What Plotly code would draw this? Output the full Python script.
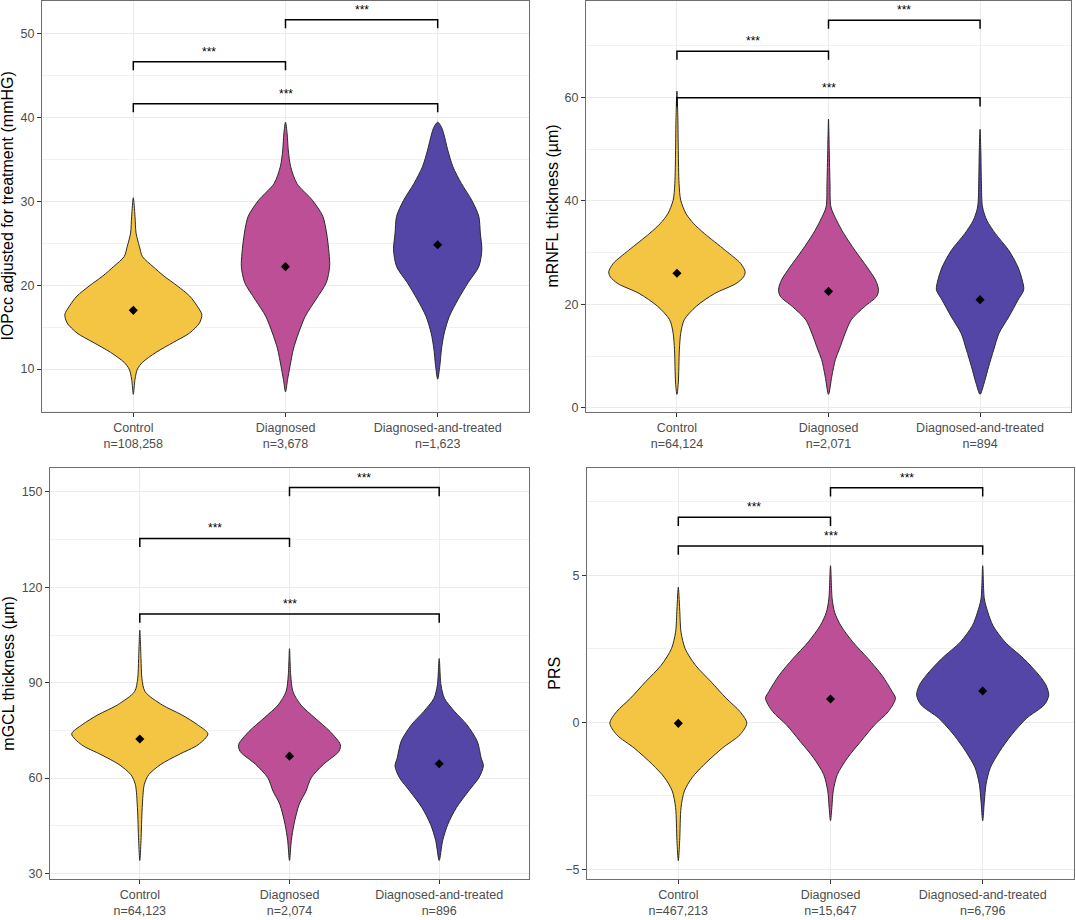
import plotly.graph_objects as go

# ---------------- data ----------------
CATEGORIES = ["Control", "Diagnosed", "Diagnosed-and-treated"]
COLORS = ["#F4C542", "#BC4F96", "#5446A6"]
PAIRS = [(0, 1), (0, 2), (1, 2)]

# Panel 1: IOPcc
IOP_N = ["108,258", "3,678", "1,623"]
IOP_CONTROL_Y = [30.4, 28.2, 26.2, 24.6, 23.4, 22.2, 21.1, 19.9, 18.7, 17.5, 16.5, 15.5, 14.3, 13.2, 12.0, 10.8, 10.0, 8.8, 7.0]
IOP_CONTROL_W = [0, 0.011, 0.018, 0.04, 0.06, 0.13, 0.2, 0.29, 0.37, 0.42, 0.45, 0.435, 0.37, 0.265, 0.15, 0.06, 0.027, 0.011, 0]
IOP_DIAG_Y = [39.4, 38.0, 36.1, 34.1, 32.1, 30.1, 28.2, 26.2, 23.8, 22.2, 20.3, 18.3, 16.3, 14.3, 12.4, 10.4, 8.8, 7.3]
IOP_DIAG_W = [0, 0.011, 0.018, 0.034, 0.075, 0.177, 0.245, 0.27, 0.286, 0.29, 0.268, 0.2, 0.13, 0.086, 0.052, 0.03, 0.014, 0]
IOP_TREAT_Y = [39.4, 38.8, 38.0, 36.1, 34.1, 32.1, 30.1, 28.2, 26.2, 24.2, 22.2, 20.3, 18.3, 16.3, 14.3, 12.4, 10.4, 8.8]
IOP_TREAT_W = [0, 0.025, 0.04, 0.066, 0.1, 0.156, 0.224, 0.27, 0.28, 0.29, 0.27, 0.2, 0.134, 0.077, 0.043, 0.025, 0.014, 0]
IOP_MEANS = [17.0, 22.2, 24.8]
IOP_BRACKET_Y = [46.6, 41.6, 51.6]

# Panel 2: mRNFL
RNFL_N = ["64,124", "2,071", "894"]
RNFL_CONTROL_Y = [61.2, 56.1, 49.7, 43.3, 40.1, 37.5, 35.6, 33.7, 30.4, 27.9, 26.3, 25.3, 24.0, 22.1, 19.6, 17.0, 14.4, 11.2, 4.8, 2.6]
RNFL_CONTROL_W = [0, 0.006, 0.009, 0.014, 0.025, 0.06, 0.11, 0.18, 0.32, 0.42, 0.45, 0.44, 0.39, 0.25, 0.127, 0.048, 0.025, 0.016, 0.009, 0]
RNFL_DIAG_Y = [55.8, 49.7, 43.3, 38.8, 36.2, 33.7, 30.4, 27.2, 24.7, 22.8, 21.5, 19.6, 17.0, 14.4, 11.2, 9.3, 6.1, 2.6]
RNFL_DIAG_W = [0, 0.005, 0.01, 0.016, 0.054, 0.1, 0.175, 0.254, 0.31, 0.33, 0.317, 0.24, 0.15, 0.11, 0.07, 0.045, 0.022, 0]
RNFL_TREAT_Y = [53.8, 49.7, 43.3, 38.8, 36.2, 33.7, 30.4, 27.2, 24.7, 22.8, 20.8, 17.6, 14.4, 11.2, 8.0, 4.8, 2.6]
RNFL_TREAT_W = [0, 0.005, 0.009, 0.016, 0.045, 0.1, 0.19, 0.25, 0.278, 0.288, 0.25, 0.19, 0.125, 0.09, 0.057, 0.027, 0]
RNFL_MEANS = [26.0, 22.5, 20.9]
RNFL_BRACKET_Y = [68.9, 59.9, 74.9]

# Panel 3: mGCL
GCL_N = ["64,123", "2,074", "896"]
GCL_CONTROL_Y = [106.5, 97.6, 91.4, 87.2, 83.0, 79.9, 76.8, 73.9, 70.5, 67.4, 64.3, 61.1, 58.0, 50.7, 40.3, 34.1]
GCL_CONTROL_W = [0, 0.008, 0.014, 0.035, 0.15, 0.28, 0.385, 0.455, 0.39, 0.26, 0.14, 0.06, 0.03, 0.016, 0.008, 0]
GCL_DIAG_Y = [100.7, 92.4, 87.2, 83.0, 78.9, 74.7, 70.5, 68.4, 64.3, 60.1, 55.9, 51.8, 45.5, 40.3, 34.1]
GCL_DIAG_W = [0, 0.008, 0.023, 0.076, 0.17, 0.27, 0.34, 0.33, 0.226, 0.145, 0.11, 0.065, 0.03, 0.012, 0]
GCL_TREAT_Y = [97.6, 89.3, 85.1, 80.9, 76.8, 71.6, 66.4, 63.8, 60.1, 55.9, 50.7, 45.5, 40.3, 34.1]
GCL_TREAT_W = [0, 0.012, 0.035, 0.104, 0.185, 0.254, 0.28, 0.295, 0.265, 0.196, 0.115, 0.058, 0.023, 0]
GCL_MEANS = [72.3, 66.9, 64.5]
GCL_BRACKET_Y = [135.4, 111.6, 151.4]

# Panel 4: PRS
PRS_N = ["467,213", "15,647", "6,796"]
PRS_CONTROL_Y = [4.6, 3.86, 3.07, 2.51, 1.95, 1.39, 0.82, 0.37, -0.02, -0.42, -0.87, -1.43, -1.88, -2.33, -2.89, -4.02, -4.7]
PRS_CONTROL_W = [0, 0.009, 0.018, 0.045, 0.112, 0.214, 0.315, 0.405, 0.45, 0.405, 0.29, 0.17, 0.09, 0.04, 0.018, 0.009, 0]
PRS_DIAG_Y = [5.33, 4.2, 3.75, 3.3, 2.74, 2.17, 1.61, 1.05, 0.82, 0.37, -0.08, -0.64, -1.2, -1.77, -2.33, -2.89, -3.34]
PRS_DIAG_W = [0, 0.011, 0.027, 0.067, 0.146, 0.247, 0.337, 0.405, 0.427, 0.38, 0.29, 0.2, 0.112, 0.045, 0.018, 0.009, 0]
PRS_TREAT_Y = [5.33, 4.2, 3.75, 3.3, 2.74, 2.17, 1.61, 1.27, 0.93, 0.6, 0.15, -0.42, -0.98, -1.54, -2.1, -2.67, -3.34]
PRS_TREAT_W = [0, 0.011, 0.034, 0.067, 0.146, 0.27, 0.37, 0.416, 0.434, 0.405, 0.29, 0.19, 0.112, 0.05, 0.022, 0.011, 0]
PRS_MEANS = [-0.03, 0.8, 1.07]
PRS_BRACKET_Y = [6.98, 6.0, 7.98]

# ---------------- layout / style ----------------
W_PX, H_PX = 1076, 920
FONT = "Liberation Sans, Arial, Helvetica, sans-serif"
TICK_COLOR = "#4D4D4D"
GRID = "#EBEBEB"
BORDER = "#6E6E6E"

PANELS = [
    dict(title="IOPcc adjusted for treatment (mmHG)", n=IOP_N,
         shapes=[(IOP_CONTROL_Y, IOP_CONTROL_W), (IOP_DIAG_Y, IOP_DIAG_W), (IOP_TREAT_Y, IOP_TREAT_W)],
         means=IOP_MEANS, brackets=IOP_BRACKET_Y,
         yrange=[4.87, 53.83], dtick=10, tick0=0, box=(42, 529, 0, 413), title_x=8),
    dict(title="mRNFL thickness (µm)", n=RNFL_N,
         shapes=[(RNFL_CONTROL_Y, RNFL_CONTROL_W), (RNFL_DIAG_Y, RNFL_DIAG_W), (RNFL_TREAT_Y, RNFL_TREAT_W)],
         means=RNFL_MEANS, brackets=RNFL_BRACKET_Y,
         yrange=[-0.85, 78.6], dtick=20, tick0=0, box=(586, 1071, 0, 413), title_x=553),
    dict(title="mGCL thickness (µm)", n=GCL_N,
         shapes=[(GCL_CONTROL_Y, GCL_CONTROL_W), (GCL_DIAG_Y, GCL_DIAG_W), (GCL_TREAT_Y, GCL_TREAT_W)],
         means=GCL_MEANS, brackets=GCL_BRACKET_Y,
         yrange=[28.3, 157.4], dtick=30, tick0=0, box=(50, 529, 469.5, 881.7), title_x=9),
    dict(title="PRS", n=PRS_N,
         shapes=[(PRS_CONTROL_Y, PRS_CONTROL_W), (PRS_DIAG_Y, PRS_DIAG_W), (PRS_TREAT_Y, PRS_TREAT_W)],
         means=PRS_MEANS, brackets=PRS_BRACKET_Y,
         yrange=[-5.32, 8.64], dtick=5, tick0=0, box=(587, 1074, 469.5, 881.7), title_x=555),
]

fig = go.Figure()
layout = dict(
    width=W_PX, height=H_PX, margin=dict(l=0, r=0, t=0, b=0),
    paper_bgcolor="white", plot_bgcolor="white", showlegend=False,
    font=dict(family=FONT, color="black"),
)
annotations = []

for k, p in enumerate(PANELS):
    sfx = "" if k == 0 else str(k + 1)
    xref, yref = "x" + sfx, "y" + sfx
    x0, x1, y0, y1 = p["box"]
    xpos = list(range(1, len(CATEGORIES) + 1))

    # violins (outline closed explicitly so the stroke goes all the way round)
    for i, (ys, ws) in enumerate(p["shapes"]):
        c = xpos[i]
        right_x = [c + w for w in ws]
        left_x = [c - w for w in ws][::-1][1:]
        left_y = list(ys[::-1][1:])
        fig.add_trace(go.Scatter(
            x=right_x + left_x, y=list(ys) + left_y,
            mode="lines", fill="toself", fillcolor=COLORS[i],
            line=dict(color="#2A2A2A", width=1, shape="spline", smoothing=0.8),
            xaxis=xref, yaxis=yref, hoverinfo="skip"))

    # means
    fig.add_trace(go.Scatter(
        x=xpos, y=p["means"], mode="markers",
        marker=dict(symbol="diamond", size=7, color="black"),
        xaxis=xref, yaxis=yref))

    # significance brackets
    span = p["yrange"][1] - p["yrange"][0]
    tip = 0.021 * span
    for (a, b), yb in zip(PAIRS, p["brackets"]):
        xa, xb = xpos[a], xpos[b]
        fig.add_trace(go.Scatter(
            x=[xa, xa, xb, xb], y=[yb - tip, yb, yb, yb - tip],
            mode="lines", line=dict(color="black", width=1.5),
            xaxis=xref, yaxis=yref, hoverinfo="skip"))
        annotations.append(dict(
            x=(xa + xb) / 2, y=yb, xref=xref, yref=yref, text="***",
            showarrow=False, yanchor="bottom", xanchor="center", yshift=1,
            font=dict(size=12, color="black", family=FONT)))

    ticktext = [f"{c}<br>n={n}" for c, n in zip(CATEGORIES, p["n"])]
    layout["xaxis" + sfx] = dict(
        domain=[x0 / W_PX, x1 / W_PX], anchor=yref, range=[0.4, 3.6],
        tickmode="array", tickvals=xpos, ticktext=ticktext,
        tickfont=dict(size=12.5, color=TICK_COLOR, family=FONT),
        ticks="outside", ticklen=4, tickcolor="#333333",
        showgrid=True, gridcolor=GRID, gridwidth=1, zeroline=False,
        showline=True, mirror=True, linecolor=BORDER, linewidth=1,
    )
    layout["yaxis" + sfx] = dict(
        domain=[1 - y1 / H_PX, 1 - y0 / H_PX], anchor=xref, range=p["yrange"],
        tickmode="linear", tick0=p["tick0"], dtick=p["dtick"],
        tickfont=dict(size=12.5, color=TICK_COLOR, family=FONT),
        ticks="outside", ticklen=4, tickcolor="#333333",
        showgrid=True, gridcolor=GRID, gridwidth=1, zeroline=False,
        minor=dict(dtick=p["dtick"] / 2, tick0=p["tick0"], showgrid=True, gridcolor="#F2F2F2", gridwidth=0.6),
        showline=True, mirror=True, linecolor=BORDER, linewidth=1,
    )
    annotations.append(dict(
        text=p["title"], textangle=-90, showarrow=False,
        xref="paper", yref="paper", x=p["title_x"] / W_PX,
        y=1 - (y0 + y1) / 2 / H_PX, xanchor="center", yanchor="middle",
        font=dict(size=16, color="black", family=FONT)))

layout["annotations"] = annotations
fig.update_layout(**layout)
fig.write_html("out.html")
